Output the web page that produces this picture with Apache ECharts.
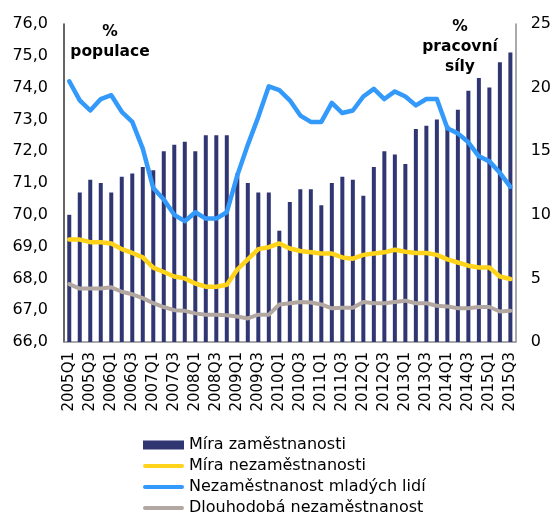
<!DOCTYPE html>
<html>
<head>
<meta charset="utf-8">
<script src="https://cdn.jsdelivr.net/npm/echarts@6/dist/echarts.min.js"></script>
<style>
  html, body { margin: 0; padding: 0; background: #fff; }
  #graf_trh_prace { width: 554px; height: 516px; }
</style>
</head>
<body>
<div id="graf_trh_prace"></div>
<script>
// ctvrtleti 2005Q1 .. 2015Q3
var ctvrtleti = [];
for (var rok = 2005; rok <= 2015; rok++) {
    for (var q = 1; q <= 4; q++) {
        if (rok === 2015 && q > 3) break;
        ctvrtleti.push(rok + 'Q' + q);
    }
}

// levá osa (% populace)
var miraZamestnanosti = [
    70.0, 70.7, 71.1, 71.0, 70.7, 71.2, 71.3, 71.5, 71.4, 72.0,
    72.2, 72.3, 72.0, 72.5, 72.5, 72.5, 71.3, 71.0, 70.7, 70.7,
    69.5, 70.4, 70.8, 70.8, 70.3, 71.0, 71.2, 71.1, 70.6, 71.5,
    72.0, 71.9, 71.6, 72.7, 72.8, 73.0, 72.8, 73.3, 73.9, 74.3,
    74.0, 74.8, 75.1
];

// pravá osa (% pracovní síly)
var miraNezamestnanosti = [
    8.05, 8.05, 7.85, 7.85, 7.75, 7.3, 7.0, 6.65, 5.85, 5.5,
    5.15, 5.0, 4.6, 4.35, 4.35, 4.5, 5.7, 6.5, 7.3, 7.45,
    7.75, 7.35, 7.15, 7.05, 6.95, 6.95, 6.65, 6.55, 6.85, 6.95,
    7.05, 7.25, 7.1, 7.0, 7.0, 6.85, 6.5, 6.25, 6.0, 5.85,
    5.85, 5.15, 4.95
];

var nezamestnanostMladych = [
    20.5, 19.0, 18.2, 19.1, 19.4, 18.1, 17.3, 15.2, 12.1, 11.2,
    10.0, 9.5, 10.2, 9.7, 9.7, 10.2, 13.1, 15.5, 17.7, 20.1,
    19.8, 19.0, 17.8, 17.3, 17.3, 18.8, 18.0, 18.2, 19.3, 19.9,
    19.1, 19.7, 19.3, 18.6, 19.1, 19.1, 16.8, 16.4, 15.7, 14.6,
    14.2, 13.3, 12.2
];

var dlouhodobaNezamestnanost = [
    4.55, 4.2, 4.2, 4.2, 4.3, 3.95, 3.75, 3.45, 3.05, 2.75,
    2.5, 2.45, 2.25, 2.15, 2.15, 2.1, 2.0, 1.85, 2.15, 2.15,
    2.95, 3.05, 3.15, 3.1, 2.95, 2.65, 2.7, 2.7, 3.15, 3.05,
    3.05, 3.15, 3.25, 3.05, 3.05, 2.85, 2.8, 2.65, 2.65, 2.75,
    2.75, 2.4, 2.45
];

var pismo = 'DejaVu Sans';
// tenka cara jako ikona legendy pro carove rady
var ikonaCara = 'path://M2,0 L39,0 A2,2 0 0 1 39,4 L2,4 A2,2 0 0 1 2,0 Z';

var graf = echarts.init(document.getElementById('graf_trh_prace'));

function carkou(v) {
    return v.toFixed(1).replace('.', ',');
}

var option = {
    animation: false,
    backgroundColor: '#fff',
    grid: { left: 64, right: 36, top: 24, bottom: 174 },
    legend: {
        orient: 'vertical',
        left: 143,
        top: 437,
        height: 80,
        padding: 0,
        itemWidth: 41,
        itemHeight: 9,
        itemGap: 5,
        textStyle: { fontFamily: pismo, fontSize: 16, color: '#000', lineHeight: 16 },
        data: [
            { name: 'Míra zaměstnanosti', icon: 'rect' },
            { name: 'Míra nezaměstnanosti', icon: ikonaCara },
            { name: 'Nezaměstnanost mladých lidí', icon: ikonaCara },
            { name: 'Dlouhodobá nezaměstnanost', icon: ikonaCara }
        ]
    },
    graphic: [
        {
            type: 'text',
            style: {
                text: '%\npopulace', x: 110, y: 42,
                textAlign: 'center', textVerticalAlign: 'middle',
                font: 'bold 15.5px "DejaVu Sans"', lineHeight: 20, fill: '#000'
            }
        },
        {
            type: 'text',
            style: {
                text: '%\npracovní\nsíly', x: 460, y: 47,
                textAlign: 'center', textVerticalAlign: 'middle',
                font: 'bold 15.5px "DejaVu Sans"', lineHeight: 20, fill: '#000'
            }
        }
    ],
    xAxis: {
        type: 'category',
        data: ctvrtleti,
        axisLine: { lineStyle: { color: '#8c8c8c', width: 1.5 } },
        axisTick: { show: false },
        axisLabel: {
            rotate: 90,
            interval: 1,
            margin: 10,
            fontFamily: pismo,
            fontSize: 15,
            color: '#000',
            padding: [0, 0, 8, 0]
        }
    },
    yAxis: [
        {
            type: 'value',
            min: 66, max: 76, interval: 1,
            position: 'left',
            splitLine: { show: false },
            axisTick: { show: false },
            axisLine: { show: true, lineStyle: { color: '#333', width: 1.5 } },
            axisLabel: { formatter: carkou, margin: 16, fontFamily: pismo, fontSize: 16, color: '#000' }
        },
        {
            type: 'value',
            min: 0, max: 25, interval: 5,
            position: 'right',
            splitLine: { show: false },
            axisTick: { show: false },
            axisLine: { show: true, lineStyle: { color: '#8c8c8c', width: 1.5 } },
            axisLabel: { margin: 15, fontFamily: pismo, fontSize: 16, color: '#000' }
        }
    ],
    series: [
        {
            name: 'Míra zaměstnanosti',
            type: 'bar',
            yAxisIndex: 0,
            barWidth: 4,
            itemStyle: { color: '#2f3672' },
            data: miraZamestnanosti
        },
        {
            name: 'Míra nezaměstnanosti',
            type: 'line',
            yAxisIndex: 1,
            symbol: 'none',
            lineStyle: { color: '#ffd319', width: 4.5, cap: 'round', join: 'round' },
            itemStyle: { color: '#ffd319' },
            data: miraNezamestnanosti
        },
        {
            name: 'Nezaměstnanost mladých lidí',
            type: 'line',
            yAxisIndex: 1,
            symbol: 'none',
            lineStyle: { color: '#3399fa', width: 4.5, cap: 'round', join: 'round' },
            itemStyle: { color: '#3399fa' },
            data: nezamestnanostMladych
        },
        {
            name: 'Dlouhodobá nezaměstnanost',
            type: 'line',
            yAxisIndex: 1,
            symbol: 'none',
            lineStyle: { color: '#b3a8a1', width: 4, cap: 'round', join: 'round' },
            itemStyle: { color: '#b3a8a1' },
            data: dlouhodobaNezamestnanost
        }
    ]
};

graf.setOption(option);
</script>
</body>
</html>
